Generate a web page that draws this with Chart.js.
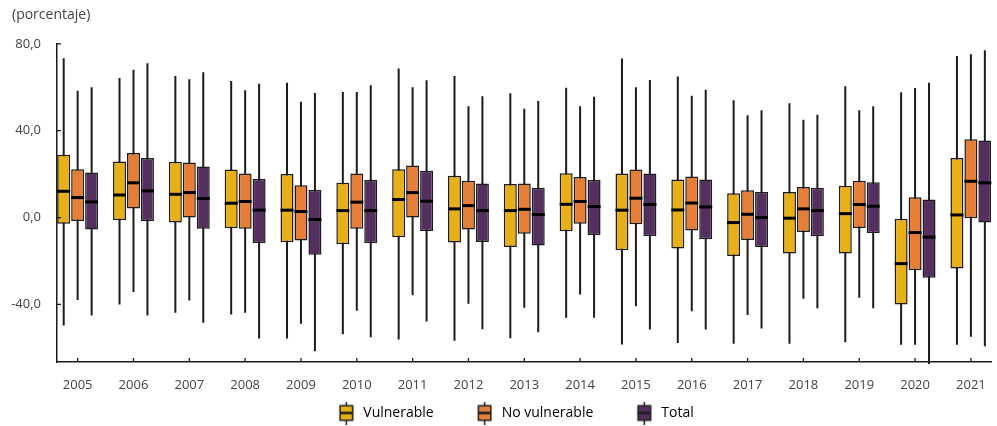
<!DOCTYPE html>
<html>
<head>
<meta charset="utf-8">
<script src="https://cdn.jsdelivr.net/npm/chart.js@4.4.1/dist/chart.umd.min.js"></script>
<style>
  html, body { margin: 0; padding: 0; background: #fff; }
  #wrap { width: 997px; height: 426px; }
</style>
</head>
<body>
<div id="wrap"><canvas id="boxChart"></canvas></div>
<script>
// Years on the x axis
const years = [2005, 2006, 2007, 2008, 2009, 2010, 2011, 2012, 2013, 2014, 2015, 2016, 2017, 2018, 2019, 2020, 2021];
const yTicks = [-40, 0, 40, 80];

// Vulnerable
const vulnMin = [-49.7, -40.0, -43.8, -44.6, -55.7, -53.7, -56.1, -56.7, -55.6, -46.1, -58.5, -57.7, -58.1, -58.1, -57.4, -58.6, -58.6];
const vulnQ1  = [-2.8, -1.2, -2.3, -4.9, -11.4, -12.3, -9.1, -11.5, -13.6, -6.3, -15.1, -14.3, -17.7, -16.5, -16.5, -40.0, -23.4];
const vulnMed = [12.1, 10.4, 10.7, 6.6, 3.4, 3.2, 8.3, 4.0, 3.2, 6.1, 3.4, 3.5, -2.3, -0.3, 1.8, -21.2, 1.2];
const vulnQ3  = [28.9, 25.8, 25.7, 22.1, 20.0, 16.0, 22.3, 19.2, 15.4, 20.4, 20.3, 17.5, 11.2, 11.8, 14.6, -0.6, 27.4];
const vulnMax = [73.4, 64.3, 65.2, 62.9, 62.1, 57.8, 68.6, 65.2, 57.2, 59.8, 73.2, 65.0, 54.0, 52.6, 60.4, 57.7, 74.4];

// No vulnerable
const noVulnMin = [-38.0, -34.3, -38.2, -43.8, -48.9, -42.9, -35.8, -39.7, -41.5, -35.4, -40.8, -43.1, -44.9, -37.4, -36.9, -58.6, -54.9];
const noVulnQ1  = [-1.6, 4.2, 0.0, -5.2, -10.6, -5.1, 0.0, -5.5, -7.4, -2.8, -3.1, -5.9, -10.3, -6.6, -4.8, -24.3, -0.3];
const noVulnMed = [9.2, 16.0, 11.5, 7.4, 2.8, 7.1, 11.5, 5.5, 3.8, 7.4, 8.9, 6.7, 1.5, 4.0, 6.0, -6.9, 16.7];
const noVulnQ3  = [22.3, 29.7, 25.4, 20.3, 14.9, 20.3, 24.0, 16.9, 15.7, 18.7, 22.1, 18.9, 12.6, 14.1, 16.9, 9.4, 36.1];
const noVulnMax = [58.4, 68.1, 63.7, 58.6, 53.3, 57.8, 60.0, 51.2, 50.1, 51.3, 60.0, 56.1, 47.1, 45.0, 49.4, 59.7, 75.2];

// Total
const totalMin = [-45.1, -45.1, -48.4, -55.7, -61.5, -55.1, -47.8, -51.4, -52.8, -46.1, -51.5, -51.5, -51.1, -41.8, -41.8, -70.0, -59.2];
const totalQ1  = [-5.5, -1.7, -5.2, -11.7, -17.1, -11.7, -6.2, -11.3, -12.9, -8.0, -8.5, -10.0, -13.6, -8.6, -7.1, -27.7, -2.3];
const totalMed = [7.2, 12.3, 8.8, 3.4, -0.9, 3.2, 7.5, 3.2, 1.4, 5.1, 6.0, 4.9, 0.0, 3.2, 5.2, -9.0, 16.0];
const totalQ3  = [20.8, 27.4, 23.5, 17.7, 12.7, 17.3, 21.5, 15.7, 13.7, 17.3, 20.3, 17.5, 11.8, 13.7, 16.3, 8.3, 35.5];
const totalMax = [60.0, 71.0, 66.9, 61.6, 57.3, 60.9, 63.2, 55.8, 53.7, 55.6, 63.3, 58.9, 49.4, 47.3, 51.2, 62.1, 77.0];

const series = [
  { label: 'Vulnerable', color: '#E9B013', min: vulnMin, q1: vulnQ1, med: vulnMed, q3: vulnQ3, max: vulnMax },
  { label: 'No vulnerable', color: '#E87D34', min: noVulnMin, q1: noVulnQ1, med: noVulnMed, q3: noVulnQ3, max: noVulnMax },
  { label: 'Total', color: '#562F61', min: totalMin, q1: totalQ1, med: totalMed, q3: totalQ3, max: totalMax }
];

const FONT = "'Open Sans', 'Noto Sans', sans-serif";
const INK = '#1c1c1c';

// small box-plot icon for the legend (drawn on the right side of a wider
// transparent canvas so the items get more room between them)
function makeIcon(color) {
  const c = document.createElement('canvas');
  c.width = 42; c.height = 23;
  const g = c.getContext('2d');
  const cx = 34.5;
  g.strokeStyle = INK;
  g.lineWidth = 1.5;
  g.beginPath(); g.moveTo(cx, 0); g.lineTo(cx, 23); g.stroke();
  g.fillStyle = color;
  g.fillRect(cx - 6.25, 4.25, 12.5, 14.5);
  g.strokeRect(cx - 6.25, 4.25, 12.5, 14.5);
  g.lineWidth = 2.5;
  g.beginPath(); g.moveTo(cx - 6.25, 11.5); g.lineTo(cx + 6.25, 11.5); g.stroke();
  return c;
}
const icons = series.map(s => makeIcon(s.color));

// whiskers behind the boxes, medians on top
const boxPlotParts = {
  id: 'boxPlotParts',
  beforeDatasetsDraw(chart) {
    const { ctx, chartArea, scales: { y } } = chart;
    ctx.save();
    ctx.beginPath();
    ctx.rect(chartArea.left, chartArea.top - 10, chartArea.right - chartArea.left, chartArea.bottom - chartArea.top + 12);
    ctx.clip();
    ctx.strokeStyle = INK;
    ctx.lineWidth = 2;
    series.forEach((s, di) => {
      chart.getDatasetMeta(di).data.forEach((bar, i) => {
        ctx.beginPath();
        ctx.moveTo(bar.x, y.getPixelForValue(s.max[i]));
        ctx.lineTo(bar.x, y.getPixelForValue(s.min[i]));
        ctx.stroke();
      });
    });
    ctx.restore();
  },
  afterDatasetsDraw(chart) {
    const { ctx, scales: { y } } = chart;
    ctx.save();
    ctx.strokeStyle = '#000';
    ctx.lineWidth = 3;
    series.forEach((s, di) => {
      chart.getDatasetMeta(di).data.forEach((bar, i) => {
        const py = y.getPixelForValue(s.med[i]);
        ctx.beginPath();
        ctx.moveTo(bar.x - bar.width / 2, py);
        ctx.lineTo(bar.x + bar.width / 2, py);
        ctx.stroke();
      });
    });
    ctx.restore();
  },
  // tick marks pointing into the plot
  afterDraw(chart) {
    const { ctx, chartArea, scales: { x, y } } = chart;
    ctx.save();
    ctx.strokeStyle = INK;
    ctx.lineWidth = 1.3;
    ctx.beginPath();
    years.forEach(yr => {
      const px = x.getPixelForValue(yr);
      ctx.moveTo(px, chartArea.bottom);
      ctx.lineTo(px, chartArea.bottom - 4);
    });
    yTicks.forEach(v => {
      const py = y.getPixelForValue(v);
      ctx.moveTo(chartArea.left, py);
      ctx.lineTo(chartArea.left + 4, py);
    });
    ctx.stroke();
    ctx.restore();
  }
};

new Chart(document.getElementById('boxChart'), {
  type: 'bar',
  data: {
    datasets: series.map(s => ({
      label: s.label,
      data: years.map((yr, i) => ({ x: yr, y: [s.q1[i], s.q3[i]] })),
      backgroundColor: s.color,
      borderColor: INK,
      borderWidth: 1.5,
      borderSkipped: false,
      categoryPercentage: 0.75,
      barPercentage: 0.93
    }))
  },
  options: {
    responsive: true,
    maintainAspectRatio: false,
    animation: false,
    layout: { padding: { left: 12, right: 6, top: 0, bottom: 0 } },
    plugins: {
      title: {
        display: true,
        text: '(porcentaje)',
        align: 'start',
        color: '#444',
        font: { family: FONT, size: 14, weight: 'normal' },
        padding: { top: 7, bottom: 20 }
      },
      legend: {
        position: 'bottom',
        maxHeight: 34,
        labels: {
          usePointStyle: true,
          pointStyleWidth: 47,
          padding: 14,
          color: '#333',
          font: { family: FONT, size: 14 },
          generateLabels: chart => chart.data.datasets.map((ds, i) => ({
            text: ds.label,
            pointStyle: icons[i],
            fillStyle: ds.backgroundColor,
            strokeStyle: INK,
            lineWidth: 0,
            hidden: false,
            datasetIndex: i
          }))
        }
      },
      tooltip: { enabled: false }
    },
    scales: {
      x: {
        type: 'linear',
        min: 2004.63,
        max: 2021.36,
        offset: false,
        grid: { display: false },
        border: { display: true, color: INK, width: 1.5 },
        afterBuildTicks: scale => { scale.ticks = years.map(v => ({ value: v })); },
        afterFit: scale => { scale.height = 30; },
        ticks: {
          color: '#444',
          padding: 7,
          maxRotation: 0,
          autoSkip: false,
          font: { family: FONT, size: 13 },
          callback: v => String(v)
        }
      },
      y: {
        min: -66.5,
        max: 80,
        grid: { display: false },
        border: { display: true, color: INK, width: 1.5 },
        afterBuildTicks: scale => { scale.ticks = yTicks.map(v => ({ value: v })); },
        afterFit: scale => { scale.width = 45; },
        ticks: {
          color: '#444',
          padding: 8,
          font: { family: FONT, size: 13 },
          callback: v => v.toFixed(1).replace('.', ',')
        }
      }
    }
  },
  plugins: [boxPlotParts]
});
</script>
</body>
</html>
